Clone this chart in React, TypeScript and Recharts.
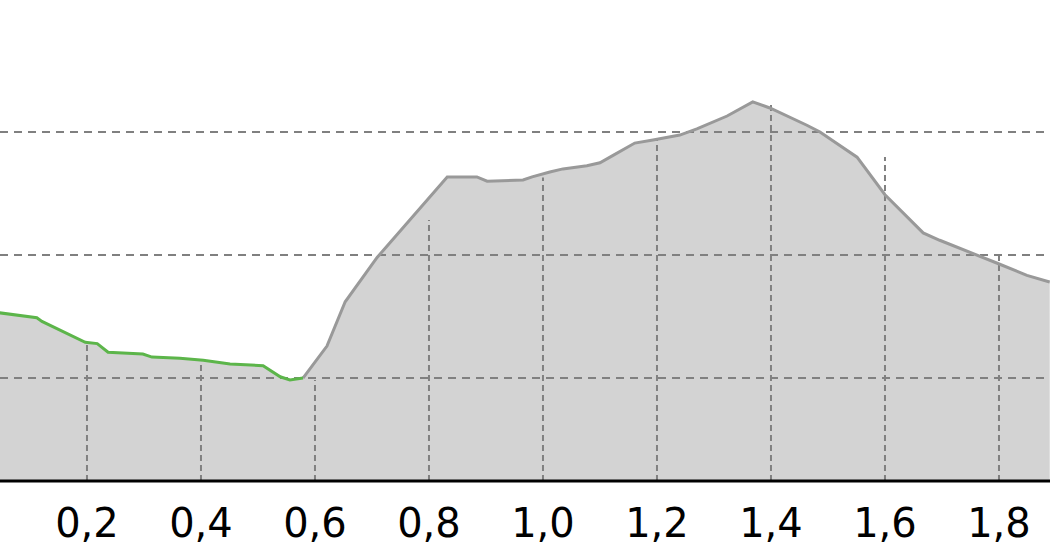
import React from 'react';
import { ComposedChart, Area, Line, XAxis, YAxis, ReferenceLine } from 'recharts';

// distance along the route (km) and elevation (m)
const distances = [
  0.047, 0.112, 0.121, 0.197, 0.218, 0.237, 0.298, 0.314, 0.363, 0.404, 0.451, 0.509, 0.539, 0.556, 0.579,
  0.621, 0.653, 0.709, 0.832, 0.884, 0.902, 0.965, 0.981, 1.012, 1.035, 1.077, 1.1, 1.123, 1.161, 1.193,
  1.24, 1.27, 1.323, 1.368, 1.398, 1.463, 1.486, 1.551, 1.6, 1.667, 1.696, 1.796, 1.849, 1.889,
];
const elevations = [
  25.3, 24.9, 24.6, 22.9, 22.8, 22.1, 21.95, 21.7, 21.6, 21.45, 21.15, 21.0, 20.1, 19.85, 20.0,
  22.6, 26.2, 29.8, 36.35, 36.35, 36.0, 36.1, 36.35, 36.75, 37.0, 37.25, 37.5, 38.1, 39.1, 39.35,
  39.75, 40.25, 41.3, 42.45, 41.95, 40.55, 40.0, 37.95, 34.9, 31.8, 31.2, 29.35, 28.35, 27.8,
];
// last index of the green (already ridden) part
const greenEnd = 14;

const kmTicks = [0.2, 0.4, 0.6, 0.8, 1.0, 1.2, 1.4, 1.6, 1.8];
const markerTops = [22.76, 21.46, 19.84, 32.85, 36.3, 39.35, 42.4, 37.97, 30.0];
const gridLevels = [20, 30, 40];

const xDomain = [0.0474, 1.8895];
const yDomain = [11.63, 50.73];

const data = distances.map((d, i) => ({
  km: d,
  elev: elevations[i],
  done: i <= greenEnd ? elevations[i] : null,
  todo: i >= greenEnd ? elevations[i] : null,
}));

const App: React.FC = () => {
  return (
    <div style={{ position: 'absolute', left: 0, top: 0, width: 1050, height: 560, background: '#fff' }}>
      <ComposedChart width={1050} height={560} data={data} margin={{ top: 0, right: 0, left: 0, bottom: 0 }}>
        <XAxis
          dataKey="km"
          type="number"
          domain={xDomain}
          allowDataOverflow
          ticks={kmTicks}
          interval={0}
          height={79}
          tickLine={false}
          tickMargin={22}
          axisLine={{ stroke: '#000', strokeWidth: 3 }}
          tick={{ fill: '#000', fontSize: 40, fontFamily: 'DejaVu Sans' }}
          tickFormatter={(v: number) => v.toFixed(1).replace('.', ',')}
        />
        <YAxis hide domain={yDomain} allowDataOverflow type="number" width={0} />
        <Area
          type="linear"
          dataKey="elev"
          stroke="none"
          fill="#d3d3d3"
          fillOpacity={1}
          baseValue="dataMin"
          isAnimationActive={false}
        />
        {gridLevels.map((lvl) => (
          <ReferenceLine key={'h' + lvl} y={lvl} stroke="#808080" strokeWidth={2} strokeDasharray="8 6" />
        ))}
        {kmTicks.map((k, i) => (
          <ReferenceLine
            key={'v' + k}
            segment={[{ x: k, y: yDomain[0] }, { x: k, y: markerTops[i] }]}
            stroke="#808080"
            strokeWidth={2}
            strokeDasharray="6 4"
          />
        ))}
        <Line type="linear" dataKey="todo" stroke="#999999" strokeWidth={3} dot={false} isAnimationActive={false} />
        <Line type="linear" dataKey="done" stroke="#5cb54a" strokeWidth={3} dot={false} isAnimationActive={false} />
      </ComposedChart>
    </div>
  );
};

export default App;
